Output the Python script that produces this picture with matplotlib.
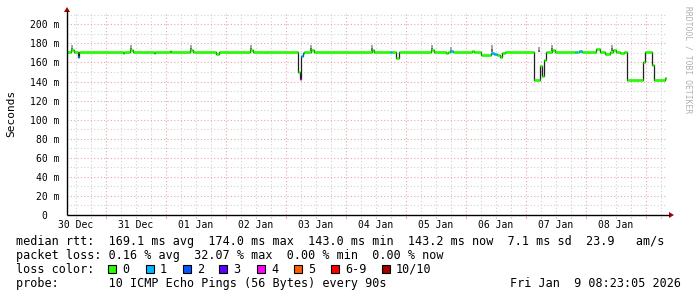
import matplotlib
matplotlib.use("Agg")
import matplotlib.pyplot as plt
import numpy as np
from matplotlib.patches import Rectangle, Polygon

# ---------------- data (time = hours since 30 Dec 00:00, value = ms) ----------------
med_t = [8.4, 10.0, 11.2, 12.8, 13.2, 30.8, 31.2, 33.6, 34.8, 43.2, 43.6, 49.6, 50.0,
         57.6, 58.8, 68.0, 69.2, 81.6, 82.8, 100.8, 101.6, 102.0, 102.8, 103.2,
         106.0, 107.2, 130.4, 131.2, 137.6, 138.4, 140.0, 141.2, 154.0, 155.2,
         160.0, 160.8, 161.6, 162.8, 170.4, 171.2, 174.0, 178.0, 179.2, 180.4,
         181.6, 182.4, 183.6, 195.2, 197.6, 198.4, 199.2, 200.0, 202.4, 203.6,
         211.6, 212.4, 213.2, 214.4, 220.0, 221.6, 223.6, 225.6, 226.8, 228.0,
         229.6, 231.2, 232.4, 238.8, 239.6, 242.4, 243.2, 247.6]
med_v = [171, 173, 171, 166, 171, 170, 171, 173, 171, 170, 171, 172, 171,
         173, 171, 169, 171, 173, 171, 150, 143, 167, 170, 171,
         173, 171, 173, 171, 171, 171, 165, 171, 173, 171,
         170, 171, 172, 171, 172, 171, 168, 170, 169, 168,
         166, 170, 171, 142, 156, 146, 163, 171, 173, 171,
         171, 171, 172, 171, 174, 171, 169, 171, 173, 171,
         170, 171, 142, 160, 171, 157, 142, 144]
med_loss = [0, 0, 0, 1, 0, 0, 0, 0, 0, 0, 0, 0, 0,
            0, 0, 0, 0, 0, 0, 0, 4, 1, 1, 0,
            0, 0, 0, 0, 1, 0, 0, 0, 0, 0,
            0, 0, 1, 0, 0, 0, 0, 1, 1, 0,
            0, 0, 0, 0, 0, 0, 0, 0, 0, 0,
            1, 0, 1, 0, 0, 0, 0, 0, 0, 0,
            0, 0, 0, 0, 0, 0, 0, 0]
t_end = 248.4
t_start = 8.4

smoke_t = [10.4, 34.0, 58.0, 82.0, 106.0, 130.4, 154.4, 178.4, 202.4, 226.4, 162.0, 197.2]
smoke_hi = [178, 178, 178, 178, 178, 178, 178, 178, 178, 178, 176, 176]
smoke_base = [172, 172, 172, 172, 172, 172, 172, 171, 172, 172, 171, 171]

loss_labels = ["0", "1", "2", "3", "4", "5", "6-9", "10/10"]
loss_colors = ["#26ff00", "#00b8ff", "#0059ff", "#5e00ff", "#ff00ff", "#ff5e00", "#ff0000", "#a10000"]

day_labels = ["30 Dec", "31 Dec", "01 Jan", "02 Jan", "03 Jan",
              "04 Jan", "05 Jan", "06 Jan", "07 Jan", "08 Jan"]
y_ticks = [0, 20, 40, 60, 80, 100, 120, 140, 160, 180, 200]
y_labels = ["0  ", "20 m", "40 m", "60 m", "80 m", "100 m", "120 m", "140 m",
            "160 m", "180 m", "200 m"]

line1 = "median rtt:  169.1 ms avg  174.0 ms max  143.0 ms min  143.2 ms now  7.1 ms sd  23.9   am/s"
line2 = "packet loss: 0.16 % avg  32.07 % max  0.00 % min  0.00 % now"
line3 = "loss color:"
line4 = "probe:       10 ICMP Echo Pings (56 Bytes) every 90s"
stamp = "Fri Jan  9 08:23:05 2026"

# ---------------- figure ----------------
W, H = 697, 297
MONO = "DejaVu Sans Mono"
plt.rcParams['font.family'] = MONO
fig = plt.figure(figsize=(W / 100, H / 100), dpi=100)
fig.patch.set_facecolor("white")

L, R, T, B = 67, 667, 13, 215
ax = fig.add_axes([L / W, 1 - B / H, (R - L) / W, (B - T) / H])
ax.set_facecolor("white")
ymax = 211.85
ax.set_xlim(t_start, t_end)
ax.set_ylim(0, ymax)
for s in ax.spines.values():
    s.set_visible(False)

# grid
dash = (0, (1, 2))
for h in np.arange(12, 250, 6):
    if h <= t_start or h >= t_end:
        continue
    major = (h % 24 == 0)
    ax.axvline(h, color="#e6a8a8" if major else "#d2d2d2", lw=0.8, ls=dash, zorder=1)
for v in range(10, 211, 10):
    major = (v % 20 == 0)
    ax.axhline(v, color="#e6a8a8" if major else "#d2d2d2", lw=0.8, ls=dash, zorder=1)

# smoke
for t, lo, hi in zip(smoke_t, smoke_base, smoke_hi):
    ax.bar(t, hi - lo, bottom=lo, width=1.0, color="#a8a8a8", lw=0, zorder=2)
    ax.bar(t, (hi - lo) * 0.5, bottom=lo, width=1.0, color="#6e6e6e", lw=0, zorder=2)

# median: dark step line + coloured horizontal segments
tt = med_t + [t_end]
ax.step(tt, med_v + [med_v[-1]], where="post", color="#202020", lw=0.9, zorder=3)
for i in range(len(med_t)):
    ax.hlines(med_v[i], tt[i], tt[i + 1], color=loss_colors[med_loss[i]], lw=1.9, zorder=4,
              capstyle="butt")

# ticks
ax.set_xticks([12 + 24 * i for i in range(len(day_labels))])
ax.set_xticklabels(day_labels, fontsize=7, family=MONO)
ax.set_yticks(y_ticks)
ax.set_yticklabels(y_labels, fontsize=7, family=MONO)
ax.tick_params(axis="x", length=0, pad=3.5)
ax.tick_params(axis="y", length=0, pad=5.5)

# ---------------- overlay in pixel coordinates ----------------
ov = fig.add_axes([0, 0, 1, 1], facecolor="none")
ov.set_xlim(0, W)
ov.set_ylim(H, 0)
ov.axis("off")

# axes lines and arrows
ov.plot([L, 669], [B, B], color="black", lw=1.0, solid_capstyle="butt")
ov.plot([L, L], [B, 11], color="black", lw=1.0, solid_capstyle="butt")
ov.add_patch(Polygon([[669, 212], [669, 218], [674, 215]], closed=True, color="#a00000", lw=0))
ov.add_patch(Polygon([[64, 12], [70, 12], [67, 7]], closed=True, color="#a00000", lw=0))

# small ticks under the axis
for h in np.arange(12, 250, 6):
    if t_start < h < t_end:
        xp = L + (h - t_start) * 2.5
        ov.plot([xp, xp], [B + 1, B + 3], color="#e6a8a8" if h % 24 == 0 else "#d2d2d2", lw=0.8)

# axis title and watermark
ov.text(11, 113, "Seconds", rotation=90, ha="center", va="center", fontsize=8, family=MONO)
ov.text(688, 60, "RRDTOOL / TOBI OETIKER", rotation=270, ha="center", va="center",
        fontsize=5.8, family=MONO, color="#b0b0b0")

# legend text
fs = 8.5
ov.text(16, 245, line1, fontsize=fs, family=MONO, va="baseline", ha="left")
ov.text(16, 259, line2, fontsize=fs, family=MONO, va="baseline", ha="left")
ov.text(16, 273, line3, fontsize=fs, family=MONO, va="baseline", ha="left")
ov.text(16, 287, line4, fontsize=fs, family=MONO, va="baseline", ha="left")
ov.text(681, 287, stamp, fontsize=fs, family=MONO, va="baseline", ha="right")

box_x = [108, 146, 183, 219, 257, 294, 331, 382]
for bx, lab, col in zip(box_x, loss_labels, loss_colors):
    ov.add_patch(Rectangle((bx, 265), 8, 8, facecolor=col, edgecolor="black", lw=0.8))
    ov.text(bx + 14, 273, lab, fontsize=fs, family=MONO, va="baseline", ha="left")

fig.savefig("out.png", dpi=100, facecolor="white")
